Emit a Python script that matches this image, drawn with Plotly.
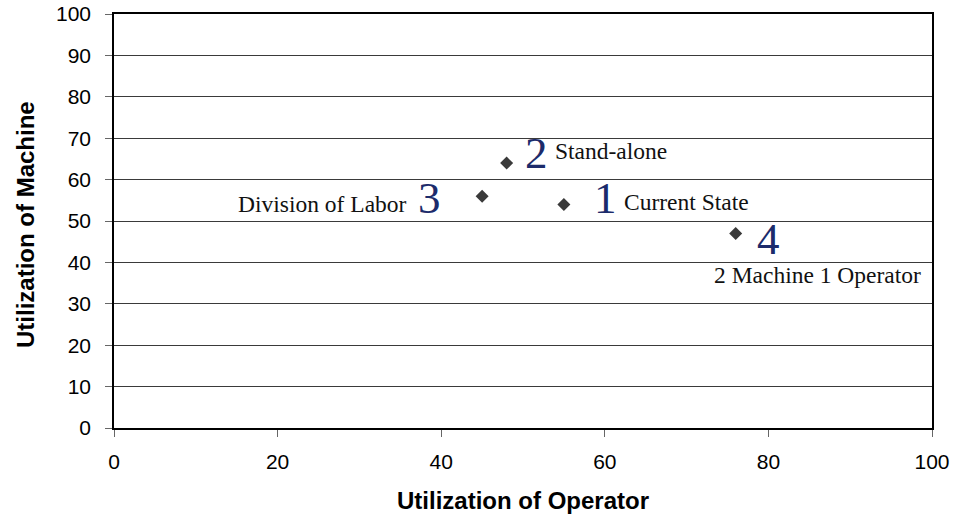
import plotly.graph_objects as go

# Operator vs machine utilization for four work arrangements
operator_util = [55, 48, 45, 76]
machine_util = [54, 64, 56, 47]
scenario_num = ["1", "2", "3", "4"]
scenario_name = ["Current State", "Stand-alone", "Division of Labor", "2 Machine 1 Operator"]

x_ticks = [0, 20, 40, 60, 80, 100]
y_ticks = [0, 10, 20, 30, 40, 50, 60, 70, 80, 90, 100]

NAVY = "#1c2b6b"
SERIF = "Liberation Serif, Times New Roman, serif"
SANS = "Liberation Sans, Arial, sans-serif"

fig = go.Figure()
fig.add_trace(go.Scatter(
    x=operator_util, y=machine_util, mode="markers",
    marker=dict(symbol="diamond", size=10, color="#3a3a3a", line=dict(width=0)),
    showlegend=False, hoverinfo="x+y",
))

# label placement per scenario: (anchor, x shift px, y shift px)
num_place = [("left", 28, 6), ("left", 16, 10), ("right", -39, -2), ("left", 19, -6)]
name_place = [("left", 58, 2), ("left", 46, 12), ("right", -73, -8), ("center", 82, -42)]

annotations = []
for i in range(len(operator_util)):
    xa, xs, ys = num_place[i]
    annotations.append(dict(
        x=operator_util[i], y=machine_util[i], xref="x", yref="y",
        text=scenario_num[i], showarrow=False, xanchor=xa, yanchor="middle",
        xshift=xs, yshift=ys, font=dict(family=SERIF, size=45, color=NAVY),
    ))
    xa, xs, ys = name_place[i]
    annotations.append(dict(
        x=operator_util[i], y=machine_util[i], xref="x", yref="y",
        text=scenario_name[i], showarrow=False, xanchor=xa, yanchor="middle",
        xshift=xs, yshift=ys, font=dict(family=SERIF, size=23.5, color="#111111"),
    ))

# axis titles
annotations.append(dict(
    x=0.5, y=0, xref="paper", yref="paper", text="<b>Utilization of Operator</b>",
    showarrow=False, xanchor="center", yanchor="middle", yshift=-72,
    font=dict(family=SANS, size=24, color="#000000"),
))
annotations.append(dict(
    x=0, y=0.5, xref="paper", yref="paper", text="<b>Utilization of Machine</b>",
    showarrow=False, xanchor="center", yanchor="middle", xshift=-89, yshift=-4,
    textangle=-90, font=dict(family=SANS, size=24, color="#000000"),
))

fig.update_layout(
    width=956, height=516,
    margin=dict(l=114, r=24, t=14, b=88),
    paper_bgcolor="white", plot_bgcolor="white",
    annotations=annotations,
    xaxis=dict(
        range=[0, 100], tickvals=x_ticks, ticktext=[str(v) for v in x_ticks],
        showgrid=False, zeroline=False, automargin=False,
        showline=True, linecolor="#000000", linewidth=1.5, mirror=True,
        ticks="outside", ticklen=7, tickcolor="#666666", tickwidth=1,
        ticklabelstandoff=7,
        tickfont=dict(family=SANS, size=21, color="#000000"),
    ),
    yaxis=dict(
        range=[0, 100], tickvals=y_ticks, ticktext=[str(v) for v in y_ticks],
        showgrid=True, gridcolor="#3a3a3a", gridwidth=1, zeroline=False, automargin=False,
        showline=True, linecolor="#000000", linewidth=1.5, mirror=True,
        ticks="outside", ticklen=7, tickcolor="#666666", tickwidth=1,
        ticklabelstandoff=10,
        tickfont=dict(family=SANS, size=21, color="#000000"),
    ),
)

fig.write_html("out.html")
